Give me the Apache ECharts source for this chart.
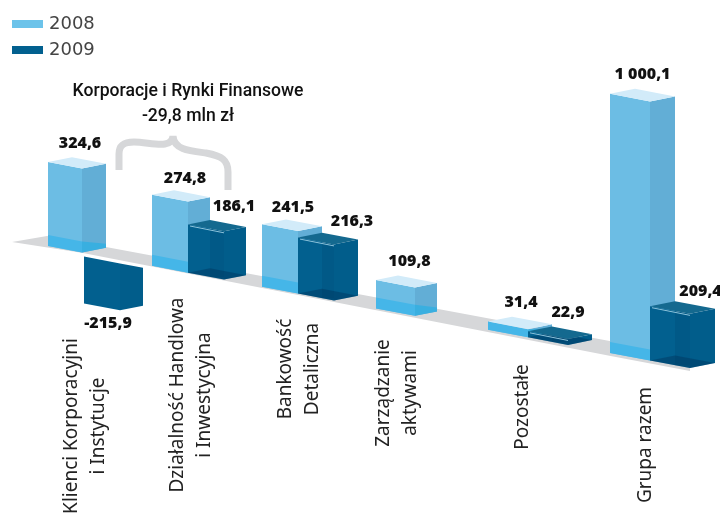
<!DOCTYPE html>
<html>
<head>
<meta charset="utf-8">
<style>html,body{margin:0;padding:0;background:#fff}#c{width:720px;height:513px}</style>
<script src="https://cdn.jsdelivr.net/npm/echarts@6/dist/echarts.min.js"></script>
</head>
<body>
<div id="c"></div>
<script>
// ---- data ----
const categories = ['Klienci Korporacyjni\ni Instytucje', 'Działalność Handlowa\ni Inwestycyjna', 'Bankowość\nDetaliczna', 'Zarządzanie\naktywami', 'Pozostałe', 'Grupa razem'];
const values2008 = [324.6, 274.8, 241.5, 109.8, 31.4, 1000.1];
const values2009 = [-215.9, 186.1, 216.3, null, 22.9, 209.4];
const valueLabels2008 = ['324,6', '274,8', '241,5', '109,8', '31,4', '1 000,1'];
const valueLabels2009 = ['-215,9', '186,1', '216,3', '', '22,9', '209,4'];
const noteLines = 'Korporacje i Rynki Finansowe\n-29,8 mln zł';

// ---- layout constants (pseudo-3D projection, not data) ----
const SLOPE = 0.19, BACK_SLOPE = 0.2;
const SLOT_NUDGE = [0, -8, -10, -8, -8, 2];
const FRONT_W = [34, 36, 36, 39, 40, 40];
const SIDE_W = [24, 22, 24, 22, 24, 25];
const CAT_DX = [37, 39, 37, 21, 35, 36];
const CAT_Y = [426, 395, 369, 393, 407, 445];
const LABEL_OFF_2008 = [[3, -14], [4, -12], [1, -12], [3, -14], [1, -14], [0, -14]];
const LABEL_OFF_2009 = [[-3, 20], [17, -14], [24, -11], null, [8, -14], [18, -10]];
const NEG_SCALE = 0.84, NEG_DROP = 4, NEG_SHIFT = 2;
const COL = {
  l: { front: '#6cbde4', side: '#62aed6', top: '#d2ebf9', band: '#45b6e8', bandSide: '#39afe0' },
  d: { front: '#02608f', side: '#015d8b', top: '#14698f', inner: 'rgba(0,55,95,0.16)', bottom: 'rgba(0,45,85,0.38)', rim: '#8cc3db' }
};
const LABEL_FONT = { fontFamily: 'Open Sans', fontWeight: 800, fontSize: 16, fill: '#111' };

function poly(points, fill) { return { type: 'polygon', shape: { points }, style: { fill } }; }

function geom(api, i, value) {
  const zero = api.coord([i, 0]);
  const first = api.coord([0, 0]);
  const x0 = zero[0] - 40 + SLOT_NUDGE[i];
  const yb = zero[1] + SLOPE * (x0 - (first[0] - 40));
  const h = zero[1] - api.coord([i, value])[1];
  return { x0, yb, h, w: FRONT_W[i], s: SIDE_W[i] };
}

function box(g, kind) {
  const { x0, w, s } = g;
  const yb = g.yb, h = g.h;
  const fdy = w * SLOPE, sdy = s * BACK_SLOPE;
  const c = COL[kind];
  const out = [];
  const front = (t, b) => [[x0, yb - t], [x0 + w, yb - t + fdy], [x0 + w, yb - b + fdy], [x0, yb - b]];
  const side = (t1, t2, b1, b2) => [[x0 + w, yb - t1 + fdy], [x0 + w + s, yb - t2 + fdy - sdy], [x0 + w + s, yb - b2 + fdy - sdy], [x0 + w, yb - b1 + fdy]];
  out.push(poly(front(h, 0), c.front));
  out.push(poly(side(h, h, 0, 0), c.side));
  if (kind === 'l') {
    const band = Math.min(h, 11);
    out.push(poly(front(band, 0), c.band));
    out.push(poly(side(band, Math.min(h, 4), 0, 0), c.bandSide));
  } else {
    out.push({ type: 'rect', shape: { x: x0 + s, y: yb - h + s * SLOPE, width: w - s, height: h }, style: { fill: c.inner } });
    out.push(poly([[x0, yb], [x0 + w, yb + fdy], [x0 + w + s, yb + fdy - sdy], [x0 + s, yb - sdy]], c.bottom));
  }
  out.push(poly([[x0, yb - h], [x0 + w, yb - h + fdy], [x0 + w + s, yb - h + fdy - sdy], [x0 + s, yb - h - sdy]], c.top));
  if (kind === 'd') {
    out.push({ type: 'line', shape: { x1: x0 + 2, y1: yb - h + 1.5, x2: x0 + w, y2: yb - h + fdy + 1.5 }, style: { stroke: c.rim, lineWidth: 1 } });
  }
  return out;
}

function valueText(x, y, text) {
  return { type: 'text', x, y, style: Object.assign({ text, align: 'center', verticalAlign: 'middle' }, LABEL_FONT) };
}

function renderFloor(params, api) {
  const o = api.coord([0, 0]);
  const ox = o[0] - 40, oy = o[1];
  const line = (x, d) => [x, oy + SLOPE * (x - ox) + d];
  return {
    type: 'group',
    children: [
      poly([[12, oy - 4], [47, oy - 10], line(690, -12), line(690, 3), line(612, 3), [83, oy + 7]], '#d6d7d9'),
      { type: 'path', shape: { pathData: 'M119 170 L119 154 C119 145 124 142 134 142 C150 142 172 150 173 136 C174 150 190 151 206 153 C222 156 228 160 228 172 L228 190', x: 119, y: 136, width: 109, height: 54 },
        style: { fill: null, stroke: '#d6d7d9', lineWidth: 7 } },
      { type: 'text', x: 188, y: 104, style: { text: noteLines, align: 'center', verticalAlign: 'middle', lineHeight: 25, fontFamily: 'Roboto', fontWeight: 500, fontSize: 17.6, fill: '#111' } }
    ]
  };
}

function render2008(params, api) {
  const i = api.value(0), v = api.value(1);
  const g = geom(api, i, v);
  const off = LABEL_OFF_2008[i];
  const tx = g.x0 + (g.w + g.s) / 2, ty = g.yb - g.h - g.s * BACK_SLOPE;
  return {
    type: 'group',
    children: box(g, 'l').concat([
      valueText(tx + off[0], ty + off[1], valueLabels2008[i]),
      { type: 'text', x: g.x0 + CAT_DX[i], y: CAT_Y[i], rotation: Math.PI / 2,
        style: { text: categories[i], align: 'center', verticalAlign: 'middle', lineHeight: 27, fontFamily: 'Noto Sans', fontSize: 19, fill: '#222' } }
    ])
  };
}

function render2009(params, api) {
  const i = api.value(0), v = api.value(1);
  const g = geom(api, i, v);
  g.x0 += g.w; g.yb += g.w * SLOPE;
  const off = LABEL_OFF_2009[i];
  const tx = g.x0 + (g.w + g.s) / 2;
  if (v < 0) {
    const hh = -g.h * NEG_SCALE;
    const yTop = g.yb + NEG_DROP;
    const f = { x0: g.x0 + NEG_SHIFT, yb: yTop + hh, h: hh, w: g.w + NEG_SHIFT, s: g.s - 1 };
    const fdy = f.w * SLOPE, sdy = f.s * BACK_SLOPE;
    return {
      type: 'group',
      children: [
        poly([[f.x0, yTop], [f.x0 + f.w, yTop + fdy], [f.x0 + f.w, f.yb + fdy], [f.x0, f.yb]], COL.d.front),
        poly([[f.x0 + f.w, yTop + fdy], [f.x0 + f.w + f.s, yTop + fdy + f.s * SLOPE], [f.x0 + f.w + f.s, f.yb + fdy - sdy], [f.x0 + f.w, f.yb + fdy]], COL.d.side),
        valueText(tx + off[0], f.yb + off[1], valueLabels2009[i])
      ]
    };
  }
  const ty = g.yb - g.h - g.s * BACK_SLOPE;
  return {
    type: 'group',
    children: box(g, 'd').concat([valueText(tx + off[0], ty + off[1], valueLabels2009[i])])
  };
}

const toPairs = vals => vals.map((v, i) => [i, v]).filter(p => p[1] !== null);

const chart = echarts.init(document.getElementById('c'));
chart.setOption({
  animation: false,
  backgroundColor: '#fff',
  grid: { left: 32, top: 13, width: 672, height: 492.1 },
  xAxis: { type: 'category', data: categories, show: false },
  yAxis: { type: 'value', min: -1000, max: 900, show: false },
  legend: {
    data: ['2008', '2009'], orient: 'vertical', left: 12, top: 15, padding: 0, itemWidth: 31, itemHeight: 8, itemGap: 8,
    selectedMode: false, icon: 'rect',
    textStyle: { fontFamily: 'DejaVu Sans', fontSize: 18, color: '#444', padding: [0, 0, 0, 1] }
  },
  series: [
    { type: 'custom', name: 'floor', coordinateSystem: 'cartesian2d', clip: false, silent: true, data: [[0, 0]], renderItem: renderFloor, z: 1 },
    { type: 'custom', name: '2008', coordinateSystem: 'cartesian2d', clip: false, data: toPairs(values2008), renderItem: render2008, itemStyle: { color: '#6cc3ea' }, z: 2 },
    { type: 'custom', name: '2009', coordinateSystem: 'cartesian2d', clip: false, data: toPairs(values2009), renderItem: render2009, itemStyle: { color: '#02608f' }, z: 3 }
  ]
});
</script>
</body>
</html>
